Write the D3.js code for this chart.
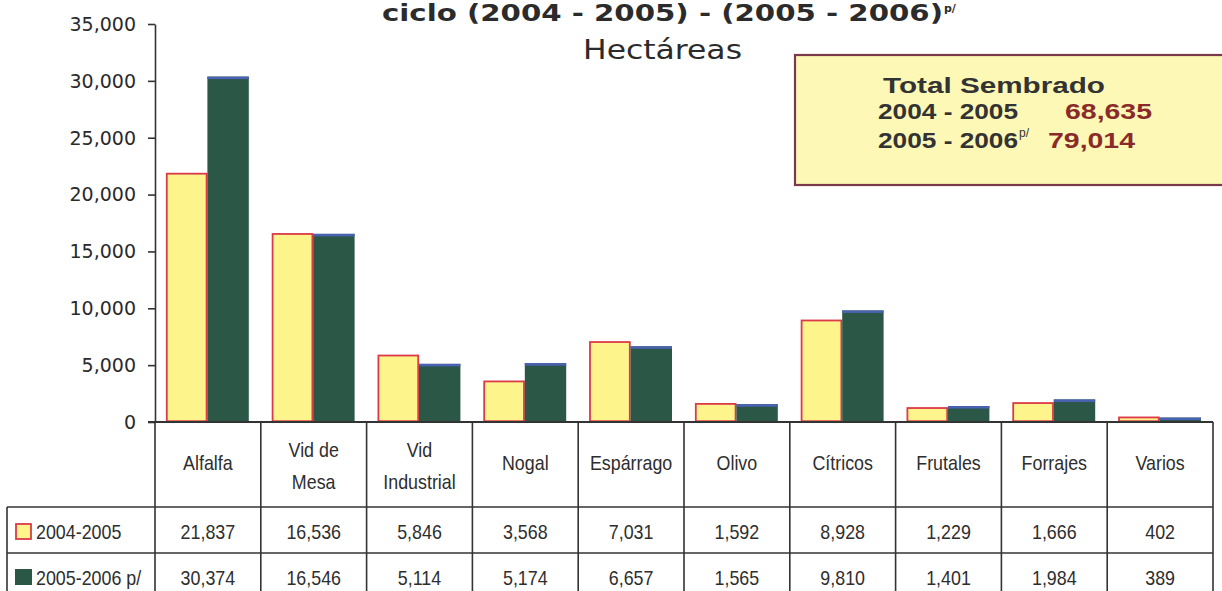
<!DOCTYPE html>
<html>
<head>
<meta charset="utf-8">
<script src="https://cdn.jsdelivr.net/npm/d3@7"></script>
<style>
  body { margin: 0; background: #fff; }
  svg { display: block; }
</style>
</head>
<body>
<div id="chart"></div>
<script>
// datos (hectáreas por cultivo)
const categories = ["Alfalfa", "Vid de\nMesa", "Vid\nIndustrial", "Nogal", "Espárrago", "Olivo", "Cítricos", "Frutales", "Forrajes", "Varios"]
const seriesNames = ["2004-2005", "2005-2006 p/"]
const values2004 = [21837, 16536, 5846, 3568, 7031, 1592, 8928, 1229, 1666, 402]
const values2005 = [30374, 16546, 5114, 5174, 6657, 1565, 9810, 1401, 1984, 389]
const yTicks = [0, 5000, 10000, 15000, 20000, 25000, 30000, 35000]
const totalPeriods = ["2004 - 2005", "2005 - 2006"]
const totalValues = [68635, 79014]

const width = 1222
const height = 591
const fmt = d3.format(",")

const svg = d3.select('#chart').append('svg')
    .attr('width', width).attr('height', height)

// grootte van de plot
const plot = { left: 155, right: 1213, top: 24, bottom: 422 }
const rowTop = [507, 553]
const tableLeft = 7

const x = d3.scaleBand()
    .domain(d3.range(categories.length))
    .range([plot.left, plot.right])

const xSeries = d3.scaleBand()
    .domain([0, 1])
    .range([11, x.bandwidth() - 12])

const y = d3.scaleLinear()
    .domain([0, 35000])
    .range([plot.bottom, plot.top])

//tekst smaller/breder maken
function squeeze(sel, k) {
    sel.each(function () {
        const w = this.getComputedTextLength()
        d3.select(this).attr('textLength', w * k).attr('lengthAdjust', 'spacingAndGlyphs')
    })
}
function fitTo(sel, w) {
    sel.attr('textLength', w).attr('lengthAdjust', 'spacingAndGlyphs')
}

// titel
const title = svg.append('text')
    .attr('x', 382).attr('y', 21)
    .attr('font-family', 'DejaVu Sans, Verdana, sans-serif')
    .attr('font-weight', 'bold').attr('font-size', 23)
    .attr('fill', '#2b2b2b')
    .text('ciclo (2004 - 2005) - (2005 - 2006)')
fitTo(title, 561)
svg.append('text')
    .attr('x', 944).attr('y', 12)
    .attr('font-family', 'DejaVu Sans, Verdana, sans-serif')
    .attr('font-weight', 'bold').attr('font-size', 11)
    .attr('fill', '#2b2b2b')
    .text('p/')

const sub = svg.append('text')
    .attr('x', 583).attr('y', 59)
    .attr('font-family', 'DejaVu Sans, Verdana, sans-serif')
    .attr('font-size', 26)
    .attr('fill', '#2b2b2b')
    .text('Hectáreas')
fitTo(sub, 159)

// y-as
const yAxis = d3.axisLeft(y)
    .tickValues(yTicks)
    .tickFormat(fmt)
    .tickSize(7)
    .tickPadding(12)
    .tickSizeOuter(0)

const yAxisG = svg.append('g')
    .attr('transform', `translate(${plot.left},0)`)
    .call(yAxis)
yAxisG.select('.domain').attr('stroke', '#333').attr('stroke-width', 1.6)
yAxisG.selectAll('.tick line').attr('stroke', '#333').attr('stroke-width', 1.6)
const tickText = yAxisG.selectAll('.tick text')
    .attr('font-family', 'DejaVu Sans, Verdana, sans-serif')
    .attr('font-size', 20)
    .attr('fill', '#2a2a2a')
squeeze(tickText, 0.95)

// staven
const series = [values2004, values2005]
const barG = svg.append('g')
categories.forEach((c, i) => {
    const g = barG.append('g').attr('transform', `translate(${x(i)},0)`)
    // 2004-2005 geel met rode rand
    g.append('rect')
        .attr('x', xSeries(0) + 0.8)
        .attr('y', y(values2004[i]))
        .attr('width', xSeries.bandwidth() - 1.6)
        .attr('height', y(0) - y(values2004[i]) - 0.8)
        .attr('fill', '#fdf48c')
        .attr('stroke', '#dc3a48')
        .attr('stroke-width', 1.8)
    // 2005-2006 donkergroen met blauwe bovenkant
    g.append('rect')
        .attr('x', xSeries(1))
        .attr('y', y(values2005[i]))
        .attr('width', xSeries.bandwidth())
        .attr('height', y(0) - y(values2005[i]))
        .attr('fill', '#2b5846')
    g.append('rect')
        .attr('x', xSeries(1))
        .attr('y', y(values2005[i]))
        .attr('width', xSeries.bandwidth())
        .attr('height', 2.5)
        .attr('fill', '#4a62b4')
})

// basislijn
svg.append('line')
    .attr('x1', plot.left - 7).attr('x2', plot.right)
    .attr('y1', plot.bottom).attr('y2', plot.bottom)
    .attr('stroke', '#333').attr('stroke-width', 1.8)

// tabel
const grid = svg.append('g').attr('stroke', '#333').attr('stroke-width', 1.6)
d3.range(categories.length + 1).forEach(i => {
    const xx = i < categories.length ? x(i) : plot.right
    grid.append('line')
        .attr('x1', xx).attr('x2', xx)
        .attr('y1', plot.bottom).attr('y2', height)
})
grid.append('line')
    .attr('x1', tableLeft).attr('x2', tableLeft)
    .attr('y1', rowTop[0]).attr('y2', height)
rowTop.forEach(r => {
    grid.append('line')
        .attr('x1', tableLeft).attr('x2', plot.right)
        .attr('y1', r).attr('y2', r)
})

const tableFont = 'Liberation Sans, Arial, sans-serif'
const k = 0.85

// categorie koppen
categories.forEach((c, i) => {
    const lines = c.split('\n')
    const cx = x(i) + x.bandwidth() / 2
    const baselines = lines.length === 1 ? [470] : [457, 489]
    lines.forEach((l, j) => {
        const t = svg.append('text')
            .attr('x', cx).attr('y', baselines[j])
            .attr('text-anchor', 'middle')
            .attr('font-family', tableFont).attr('font-size', 21)
            .attr('fill', '#2e2e2e')
            .text(l)
        squeeze(t, k)
    })
})

// waarden
const rowBase = [539, 585]
series.forEach((vals, s) => {
    vals.forEach((v, i) => {
        const t = svg.append('text')
            .attr('x', x(i) + x.bandwidth() / 2).attr('y', rowBase[s])
            .attr('text-anchor', 'middle')
            .attr('font-family', tableFont).attr('font-size', 21)
            .attr('fill', '#2e2e2e')
            .text(fmt(v))
        squeeze(t, k)
    })
    // legenda label
    const lbl = svg.append('text')
        .attr('x', 36).attr('y', rowBase[s])
        .attr('font-family', tableFont).attr('font-size', 21)
        .attr('fill', '#2e2e2e')
        .text(seriesNames[s])
    squeeze(lbl, k)
})

// legenda symbolen
svg.append('rect')
    .attr('x', 16).attr('y', rowBase[0] - 15)
    .attr('width', 15).attr('height', 15)
    .attr('fill', '#fdf48c').attr('stroke', '#dc3a48').attr('stroke-width', 1.8)
svg.append('rect')
    .attr('x', 15).attr('y', rowBase[1] - 16)
    .attr('width', 17).attr('height', 16)
    .attr('fill', '#2b5846')

// totaal kader
const box = svg.append('g')
box.append('rect')
    .attr('x', 795).attr('y', 55)
    .attr('width', 450).attr('height', 130)
    .attr('fill', '#fdf8b6')
    .attr('stroke', '#7a3a4c').attr('stroke-width', 2.2)

const boxFont = 'Liberation Sans, Arial, sans-serif'
const bt = box.append('text')
    .attr('x', 883).attr('y', 93)
    .attr('font-family', boxFont).attr('font-weight', 'bold').attr('font-size', 22)
    .attr('fill', '#333')
    .text('Total Sembrado')
fitTo(bt, 222)

const totalBase = [119, 148]
const valueX = [1065, 1048]
totalPeriods.forEach((p, i) => {
    const pt = box.append('text')
        .attr('x', 878).attr('y', totalBase[i])
        .attr('font-family', boxFont).attr('font-weight', 'bold').attr('font-size', 22)
        .attr('fill', '#333')
        .text(p)
    fitTo(pt, 140)
    const vt = box.append('text')
        .attr('x', valueX[i]).attr('y', totalBase[i])
        .attr('font-family', boxFont).attr('font-weight', 'bold').attr('font-size', 22)
        .attr('fill', '#8a2b2b')
        .text(fmt(totalValues[i]))
    fitTo(vt, 87)
})
box.append('text')
    .attr('x', 1019).attr('y', 137)
    .attr('font-family', boxFont).attr('font-size', 12)
    .attr('fill', '#333')
    .text('p/')
</script>
</body>
</html>
